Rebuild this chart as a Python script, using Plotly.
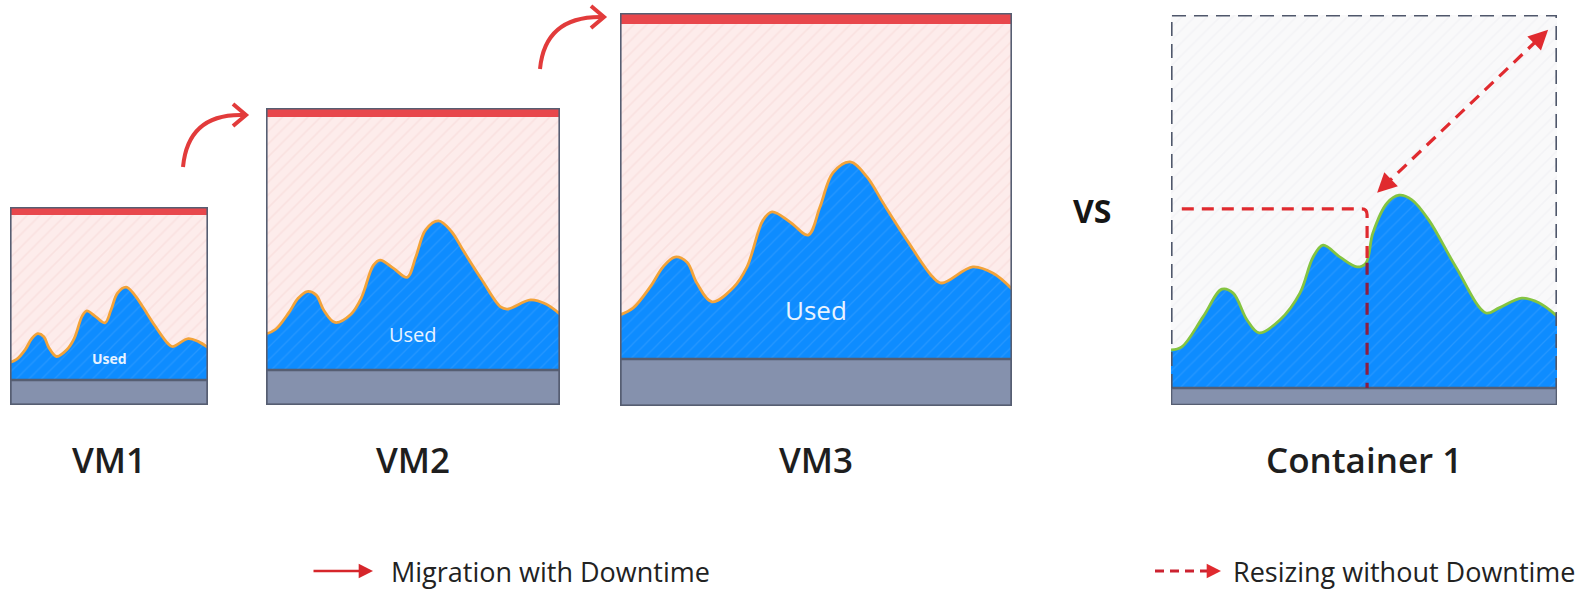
import plotly.graph_objects as go

W, H = 1592, 592

# ---------------- data (percent of each box's height in use over time) ----------------
vm_time = [0, 3.3, 7.7, 11, 14, 17.1, 19.6, 23.5, 28.8, 32.4, 36.5, 38.8, 43.4, 48, 51,
           54.3, 58.7, 63, 67.1, 73.2, 79.8, 82.1, 90, 95.2, 100]
vm1_used = [21.5, 23, 28, 33.5, 36, 34.5, 29, 24.5, 28, 33.5, 45, 47.5, 44.5, 41.5, 48,
            56.5, 59.5, 55.5, 49.5, 40, 31, 29.5, 33.5, 32, 29]
vm2_used = [23.9, 25.5, 31, 36, 38.2, 37, 32, 27.8, 30.5, 36, 47, 48.8, 46, 43, 50,
            59, 62, 58.5, 52, 42.5, 33, 32.3, 35.4, 34, 30.6]
vm3_used = [23.2, 24.9, 30.3, 35.4, 37.9, 36.6, 31.3, 26.5, 30.0, 35.4, 47.3, 49.4, 46.8, 43.5, 50.6,
            59.3, 62.1, 58.3, 51.7, 42.2, 32.8, 31.3, 35.4, 33.8, 29.8]
cont_time = [0, 2.8, 8.3, 13.2, 16.1, 19.7, 22.8, 28.2, 33.4, 36.8, 39.4, 43.8, 48.2, 50.5, 52.3,
             56, 59.1, 62.4, 66.8, 73.8, 81.6, 85, 90.9, 95.3, 100]
cont_used = [14.1, 14.9, 22.6, 29.7, 28.7, 21.8, 18.5, 21.8, 28.7, 37.9, 41, 37.9, 35.4, 36.4, 44.1,
             51.8, 53.8, 52.6, 47.4, 35.4, 23.6, 24.9, 27.4, 26.2, 22.8]

panel_names = ["VM1", "VM2", "VM3", "Container 1"]
legend_labels = ["Migration with Downtime", "Resizing without Downtime"]

# ---------------- layout / style ----------------
FONT = "Open Sans"
BORDER = "#565e72"
BAND = "#8591ad"
REDBAR = "#e8474c"
RED = "#e02a2f"
BLUE = "#0e8cff"

panels = [
    dict(box=(10, 207, 208, 405), band=25, bar=8, t=vm_time, u=vm1_used, line="#f2a33a", used=14, used_dy=11, kind="vm"),
    dict(box=(266, 108, 560, 405), band=35, bar=9, t=vm_time, u=vm2_used, line="#f2a33a", used=20, used_dy=12, kind="vm"),
    dict(box=(620, 13, 1012, 406), band=47, bar=11, t=vm_time, u=vm3_used, line="#f2a33a", used=26, used_dy=12.4, kind="vm"),
    dict(box=(1171, 15, 1557, 405), band=17, bar=0, t=cont_time, u=cont_used, line="#84c441", used=0, used_dy=0, kind="ct"),
]


def px(x):
    return x / W


def py(y):
    return 1 - y / H


fig = go.Figure()
shapes, annotations = [], []
axes = {}

for i, p in enumerate(panels, start=1):
    s = "" if i == 1 else str(i)
    xa, ya = "x" + s, "y" + s
    L, T, R, B = p["box"]
    h = B - T
    band_pct = p["band"] / h * 100
    bar_pct = p["bar"] / h * 100
    axes["xaxis" + s] = dict(domain=[px(L), px(R)], range=[0, 100], visible=False, fixedrange=True, anchor=ya)
    axes["yaxis" + s] = dict(domain=[py(B), py(T)], range=[0, 100], visible=False, fixedrange=True, anchor=xa)

    if p["kind"] == "vm":
        bg, fg = "#fdeceb", "#f6d6d5"
    else:
        bg, fg = "#f9f9fa", "#eeeef1"
    fig.add_trace(go.Scatter(
        x=[0, 100, 100, 0, 0], y=[0, 0, 100, 100, 0], xaxis=xa, yaxis=ya,
        mode="none", fill="toself", fillcolor=bg,
        fillpattern=dict(shape="/", bgcolor=bg, fgcolor=fg, size=9, solidity=0.18),
        hoverinfo="skip", showlegend=False))
    fig.add_trace(go.Scatter(
        x=p["t"], y=p["u"], xaxis=xa, yaxis=ya, mode="lines",
        line=dict(color=p["line"], width=2.8, shape="spline", smoothing=1),
        fill="tozeroy", fillcolor=BLUE,
        fillpattern=dict(shape="/", bgcolor=BLUE, fgcolor="#3da1ff", size=9, solidity=0.14),
        hoverinfo="skip", showlegend=False))

    # grey reserved band
    shapes.append(dict(type="rect", xref=xa, yref=ya, x0=0, x1=100, y0=0, y1=band_pct,
                       fillcolor=BAND, line=dict(color=BORDER, width=2.6), layer="above"))
    if p["kind"] == "vm":
        shapes.append(dict(type="rect", xref=xa, yref=ya, x0=0, x1=100, y0=100 - bar_pct, y1=100,
                           fillcolor=REDBAR, line=dict(width=0), layer="above"))
        shapes.append(dict(type="rect", xref=xa, yref=ya, x0=0, x1=100, y0=0, y1=100,
                           fillcolor="rgba(0,0,0,0)", line=dict(color=BORDER, width=3.2), layer="above"))
        annotations.append(dict(xref=xa, yref=ya, x=50, y=band_pct + p["used_dy"],
                                xanchor="center", yanchor="middle",
                                text="Used", showarrow=False,
                                font=dict(family=FONT, size=p["used"], color="#e8f3ff",
                                          weight=700 if i == 1 else 400)))
    else:
        shapes.append(dict(type="path", xref=xa, yref=ya,
                           path=f"M 0,{band_pct} L 0,100 L 100,100 L 100,{band_pct}",
                           line=dict(color="#4f576b", width=3.2, dash="14px,8px"), layer="above"))
        # resize guide (old size)
        shapes.append(dict(type="path", xref=xa, yref=ya,
                           path="M 2.8,50.3 L 49.4,50.3 Q 50.8,50.3 50.8,48.8 L 50.8,36.5",
                           line=dict(color=RED, width=3.2, dash="12px,8px"), layer="above"))
        shapes.append(dict(type="line", xref=xa, yref=ya, x0=50.8, x1=50.8, y0=36.5, y1=band_pct,
                           line=dict(color="#8c1d40", width=3.2, dash="12px,8px"), layer="above"))
        # diagonal resize arrow
        shapes.append(dict(type="line", xref=xa, yref=ya, x0=55.0, y0=56.0, x1=96.0, y1=94.6,
                           line=dict(color=RED, width=3.2, dash="12px,8px"), layer="above"))
        for (x, y, ax_, ay_) in [(97.7, 96.2, 94.8, 93.4), (53.4, 54.4, 56.3, 57.2)]:
            annotations.append(dict(xref=xa, yref=ya, axref=xa, ayref=ya, x=x, y=y, ax=ax_, ay=ay_,
                                    text="", showarrow=True, arrowhead=2, arrowsize=1.3,
                                    arrowwidth=3, arrowcolor=RED, standoff=0))

    # panel caption
    annotations.append(dict(xref="paper", yref="paper", x=px((L + R) / 2), y=py(459),
                            xanchor="center", yanchor="middle",
                            text=panel_names[i - 1], showarrow=False,
                            font=dict(family=FONT, size=35, color="#1e1e1e", weight=600)))

# migration arrows between VMs
for (sx, sy, cx, cy, ex, ey) in [(183, 167, 188, 113, 244, 115), (540, 69, 545, 16, 602, 17)]:
    shapes.append(dict(type="path", xref="paper", yref="paper",
                       path=f"M {px(sx)},{py(sy)} Q {px(cx)},{py(cy)} {px(ex)},{py(ey)}",
                       line=dict(color="#e23b3b", width=4), layer="above"))
    shapes.append(dict(type="path", xref="paper", yref="paper",
                       path=f"M {px(ex - 11)},{py(ey - 11)} L {px(ex + 2)},{py(ey)} L {px(ex - 11)},{py(ey + 11)}",
                       line=dict(color="#e23b3b", width=4), layer="above"))

# VS
annotations.append(dict(xref="paper", yref="paper", x=px(1092), y=py(210), xanchor="center", yanchor="middle",
                        text="VS", showarrow=False,
                        font=dict(family=FONT, size=32, color="#151515", weight=700)))

# legend: migration
LEG_Y = 571
annotations.append(dict(xref="paper", yref="paper", x=px(373), y=py(LEG_Y), ax=-61, ay=0, text="",
                        showarrow=True, arrowhead=2, arrowsize=1.1, arrowwidth=2.6,
                        arrowcolor="#d6262b", standoff=0))
annotations.append(dict(xref="paper", yref="paper", x=px(389), y=py(LEG_Y), xanchor="left", yanchor="middle",
                        text=legend_labels[0], showarrow=False,
                        font=dict(family=FONT, size=27, color="#222222")))
# legend: resizing
shapes.append(dict(type="line", xref="paper", yref="paper", x0=px(1155), x1=px(1209), y0=py(LEG_Y), y1=py(LEG_Y),
                   line=dict(color="#cc2230", width=3, dash="9px,6px"), layer="above"))
annotations.append(dict(xref="paper", yref="paper", x=px(1221), y=py(LEG_Y), ax=-13, ay=0, text="",
                        showarrow=True, arrowhead=2, arrowsize=1.1, arrowwidth=2.6,
                        arrowcolor="#e02a2f", standoff=0))
annotations.append(dict(xref="paper", yref="paper", x=px(1231), y=py(LEG_Y), xanchor="left", yanchor="middle",
                        text=legend_labels[1], showarrow=False,
                        font=dict(family=FONT, size=27, color="#222222")))

fig.update_layout(
    width=W, height=H, autosize=False,
    margin=dict(l=0, r=0, t=0, b=0, pad=0),
    paper_bgcolor="white", plot_bgcolor="rgba(0,0,0,0)",
    showlegend=False, shapes=shapes, annotations=annotations,
    font=dict(family=FONT),
    **axes,
)

fig.write_html("out.html", config=dict(displayModeBar=False, staticPlot=True),
               post_script="document.body.style.margin='0';document.body.style.overflow='hidden';")
